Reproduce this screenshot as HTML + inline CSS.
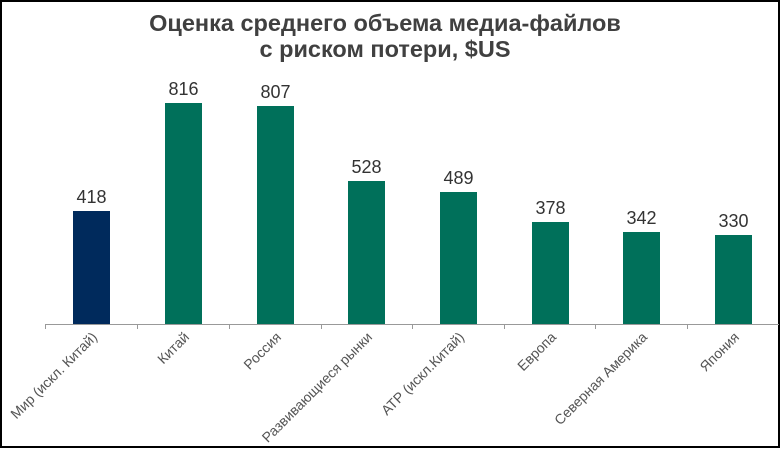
<!DOCTYPE html>
<html><head><meta charset="utf-8"><style>
html,body{margin:0;padding:0;background:#fff;}
svg{display:block;}
</style></head><body>
<svg width="781" height="449" viewBox="0 0 781 449" xmlns="http://www.w3.org/2000/svg" font-family="Liberation Sans, DejaVu Sans, sans-serif">
<rect x="1" y="1" width="778" height="446" fill="#fff" stroke="#000" stroke-width="2"/>
<text x="385" y="31" text-anchor="middle" font-size="23.5" font-weight="bold" fill="#404040">Оценка среднего объема медиа-файлов</text>
<text x="385" y="57" text-anchor="middle" font-size="23.5" font-weight="bold" fill="#404040">с риском потери, $US</text>
<g stroke="#999" stroke-width="1">
<line x1="45" y1="324.5" x2="779" y2="324.5"/>
<line x1="45.5" y1="324" x2="45.5" y2="329"/>
<line x1="137.5" y1="324" x2="137.5" y2="329"/>
<line x1="229.5" y1="324" x2="229.5" y2="329"/>
<line x1="321.5" y1="324" x2="321.5" y2="329"/>
<line x1="412.5" y1="324" x2="412.5" y2="329"/>
<line x1="504.5" y1="324" x2="504.5" y2="329"/>
<line x1="595.5" y1="324" x2="595.5" y2="329"/>
<line x1="687.5" y1="324" x2="687.5" y2="329"/>
</g>
<rect x="73" y="211" width="37" height="113" fill="#002a5c"/>
<rect x="165" y="103" width="37" height="221" fill="#00705a"/>
<rect x="257" y="106" width="37" height="218" fill="#00705a"/>
<rect x="348" y="181" width="37" height="143" fill="#00705a"/>
<rect x="440" y="192" width="37" height="132" fill="#00705a"/>
<rect x="532" y="222" width="37" height="102" fill="#00705a"/>
<rect x="623" y="232" width="37" height="92" fill="#00705a"/>
<rect x="715" y="235" width="37" height="89" fill="#00705a"/>
<g font-size="18" fill="#333" text-anchor="middle">
<text x="91.5" y="203">418</text>
<text x="183.5" y="95">816</text>
<text x="275.5" y="98">807</text>
<text x="366.5" y="173">528</text>
<text x="458.5" y="184">489</text>
<text x="550.5" y="214">378</text>
<text x="641.5" y="224">342</text>
<text x="733.5" y="227">330</text>
</g>
<g font-size="14" fill="#555" text-anchor="end">
<text transform="translate(98,338) rotate(-45)">Мир (искл. Китай)</text>
<text transform="translate(190,338) rotate(-45)">Китай</text>
<text transform="translate(282,338) rotate(-45)">Россия</text>
<text transform="translate(373,338) rotate(-45)">Развивающиеся  рынки</text>
<text transform="translate(465,338) rotate(-45)">АТР (искл.Китай)</text>
<text transform="translate(557,338) rotate(-45)">Европа</text>
<text transform="translate(648,338) rotate(-45)">Северная Америка</text>
<text transform="translate(740,338) rotate(-45)">Япония</text>
</g>
</svg>
</body></html>
